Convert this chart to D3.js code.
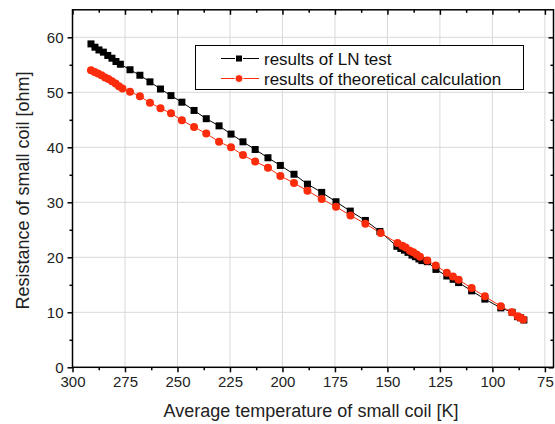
<!DOCTYPE html>
<html>
<head>
<meta charset="utf-8">
<script src="https://cdn.jsdelivr.net/npm/d3@7"></script>
<style>
  body { margin: 0; background: #fff; }
  svg { font-family: "Liberation Sans", Arial, sans-serif; }
</style>
</head>
<body>
<div id="chart"></div>
<script>
// LN test (black squares)
const lnTemp = [291.2, 289.3, 287.4, 285.3, 283.2, 281.2, 279.3, 277.2, 272.6, 267.9,
  263.1, 258.1, 253.1, 247.9, 242.1, 236.3, 230.2, 224.5, 218.8, 213.0,
  206.9, 201.0, 194.5, 188.1, 181.3, 174.5, 167.7, 160.5, 153.6, 145.5,
  143.6, 141.9, 140.2, 138.3, 136.7, 135.0, 133.6, 131.0, 126.9, 121.7,
  118.7, 116.1, 109.9, 103.6, 96.0, 90.6, 88.0, 86.6, 85.0];
const lnRes = [58.8, 58.2, 57.7, 57.3, 56.7, 56.2, 55.6, 55.1, 54.1, 53.1,
  51.9, 50.6, 49.4, 48.2, 46.7, 45.2, 43.9, 42.4, 41.0, 39.6,
  38.1, 36.7, 35.1, 33.3, 31.8, 30.1, 28.4, 26.7, 24.7, 22.0,
  21.6, 21.3, 20.9, 20.4, 20.1, 19.7, 19.4, 19.2, 17.8, 16.6,
  16.0, 15.4, 13.9, 12.4, 10.8, 10.0, 9.2, 9.0, 8.6];

// theoretical calculation (red circles)
const calcTemp = [291.2, 289.5, 287.9, 286.2, 284.5, 282.9, 281.2, 279.5, 277.9, 276.2,
  272.6, 267.9, 263.1, 258.1, 253.1, 247.9, 242.1, 236.3, 230.2, 224.5,
  218.8, 213.0, 206.9, 201.0, 194.5, 188.1, 181.3, 174.5, 167.6, 160.5,
  153.2, 145.2, 142.9, 141.3, 139.3, 137.7, 136.1, 134.5, 131.0, 127.0,
  121.7, 118.8, 116.1, 109.9, 103.6, 96.0, 90.7, 88.0, 86.6, 85.3];
const calcRes = [54.0, 53.7, 53.4, 53.1, 52.7, 52.4, 52.0, 51.6, 51.1, 50.7,
  50.1, 49.3, 48.1, 47.1, 46.2, 44.9, 43.7, 42.5, 41.0, 40.0,
  38.6, 37.4, 36.3, 34.8, 33.5, 32.1, 30.6, 29.2, 27.6, 26.1,
  24.4, 22.6, 22.1, 21.8, 21.2, 20.9, 20.5, 20.1, 19.4, 18.5,
  17.2, 16.5, 15.9, 14.4, 12.9, 11.1, 10.0, 9.3, 9.0, 8.7];

const xTicks = [300, 275, 250, 225, 200, 175, 150, 125, 100, 75];
const yTicks = [0, 10, 20, 30, 40, 50, 60];
const seriesNames = ["results of LN test", "results of theoretical calculation"];

const width = 555, height = 424;
const pl = 72.5, pr = 553.5, pt = 9.8, pb = 367.3;
const red = "#fb2c0c";

const svg = d3.select("#chart").append("svg")
  .attr("width", width).attr("height", height);

const x = d3.scaleLinear().domain([300, 70.9]).range([pl, pr]);
const y = d3.scaleLinear().domain([0, 65]).range([pb, pt]);

const xMinor = d3.range(287.5, 70, -25);
const yMinor = d3.range(5, 65, 10);

// grid
svg.append("g").selectAll("line").data(xTicks.slice(1)).join("line")
  .attr("x1", d => x(d)).attr("x2", d => x(d))
  .attr("y1", pt).attr("y2", pb)
  .attr("stroke", "#d9d9d9").attr("stroke-width", 1);
svg.append("g").selectAll("line").data(yTicks.slice(1)).join("line")
  .attr("y1", d => y(d)).attr("y2", d => y(d))
  .attr("x1", pl).attr("x2", pr)
  .attr("stroke", "#d9d9d9").attr("stroke-width", 1);

// lines
const lnData = lnTemp.map((t, i) => [t, lnRes[i]]);
const calcData = calcTemp.map((t, i) => [t, calcRes[i]]);
const line = d3.line().x(d => x(d[0])).y(d => y(d[1]));

svg.append("path").datum(lnData).attr("d", line)
  .attr("fill", "none").attr("stroke", "#000").attr("stroke-width", 1);
svg.append("path").datum(calcData).attr("d", line)
  .attr("fill", "none").attr("stroke", red).attr("stroke-width", 1);

// markers
svg.append("g").selectAll("rect").data(lnData).join("rect")
  .attr("x", d => x(d[0]) - 3.5).attr("y", d => y(d[1]) - 3.5)
  .attr("width", 7).attr("height", 7).attr("fill", "#000");
svg.append("g").selectAll("circle").data(calcData).join("circle")
  .attr("cx", d => x(d[0])).attr("cy", d => y(d[1])).attr("r", 4)
  .attr("fill", red);

// axes
const axisG = svg.append("g");
axisG.append("g").attr("transform", `translate(0,${pb})`)
  .call(d3.axisBottom(x).tickValues(xTicks).tickSize(5).tickPadding(4).tickFormat(d3.format("d")));
axisG.append("g").attr("transform", `translate(0,${pb})`)
  .call(d3.axisBottom(x).tickValues(xMinor).tickSize(3).tickFormat(""));
axisG.append("g").attr("transform", `translate(0,${pt})`)
  .call(d3.axisBottom(x).tickValues(xTicks).tickSize(5).tickFormat(""));
axisG.append("g").attr("transform", `translate(0,${pt})`)
  .call(d3.axisBottom(x).tickValues(xMinor).tickSize(3).tickFormat(""));
axisG.append("g").attr("transform", `translate(${pl},0)`)
  .call(d3.axisLeft(y).tickValues(yTicks).tickSize(5).tickPadding(4));
axisG.append("g").attr("transform", `translate(${pl},0)`)
  .call(d3.axisLeft(y).tickValues(yMinor).tickSize(3).tickFormat(""));
axisG.append("g").attr("transform", `translate(${pr},0)`)
  .call(d3.axisLeft(y).tickValues(yTicks).tickSize(5).tickFormat(""));
axisG.append("g").attr("transform", `translate(${pr},0)`)
  .call(d3.axisLeft(y).tickValues(yMinor).tickSize(3).tickFormat(""));

axisG.selectAll(".domain").remove();
axisG.selectAll("line").attr("stroke", "#000").attr("stroke-width", 1.5);
axisG.selectAll("text").attr("font-size", 15).attr("fill", "#222")
  .attr("font-family", "Liberation Sans, Arial, sans-serif");

svg.append("rect").attr("x", pl).attr("y", pt)
  .attr("width", pr - pl).attr("height", pb - pt)
  .attr("fill", "none").attr("stroke", "#000").attr("stroke-width", 1.5);

// axis titles
svg.append("text").attr("x", (pl + pr) / 2 - 2).attr("y", 417)
  .attr("text-anchor", "middle").attr("font-size", 18).attr("fill", "#222")
  .text("Average temperature of small coil [K]");
svg.append("text")
  .attr("transform", `translate(29,${(pt + pb) / 2 + 2}) rotate(-90)`)
  .attr("text-anchor", "middle").attr("font-size", 18).attr("fill", "#222")
  .text("Resistance of small coil [ohm]");

// legend
const lg = svg.append("g");
lg.append("rect").attr("x", 195.5).attr("y", 45.5).attr("width", 328).attr("height", 44)
  .attr("fill", "#fff").attr("stroke", "#000").attr("stroke-width", 1);
const rows = [{ c: "#000", sq: true }, { c: red, sq: false }];
rows.forEach((r, i) => {
  const cy = 58.5 + i * 20;
  lg.append("line").attr("x1", 221).attr("x2", 259).attr("y1", cy).attr("y2", cy)
    .attr("stroke", r.c).attr("stroke-width", 1);
  if (r.sq) {
    lg.append("rect").attr("x", 239 - 3.5).attr("y", cy - 3.5).attr("width", 7).attr("height", 7)
      .attr("fill", r.c).attr("stroke", "#fff").attr("stroke-width", 1);
  } else {
    lg.append("circle").attr("cx", 239).attr("cy", cy).attr("r", 4).attr("fill", r.c)
      .attr("stroke", "#fff").attr("stroke-width", 1);
  }
  lg.append("text").attr("x", 264).attr("y", cy + 6).attr("font-size", 17).attr("fill", "#111")
    .text(seriesNames[i]);
});
</script>
</body>
</html>
